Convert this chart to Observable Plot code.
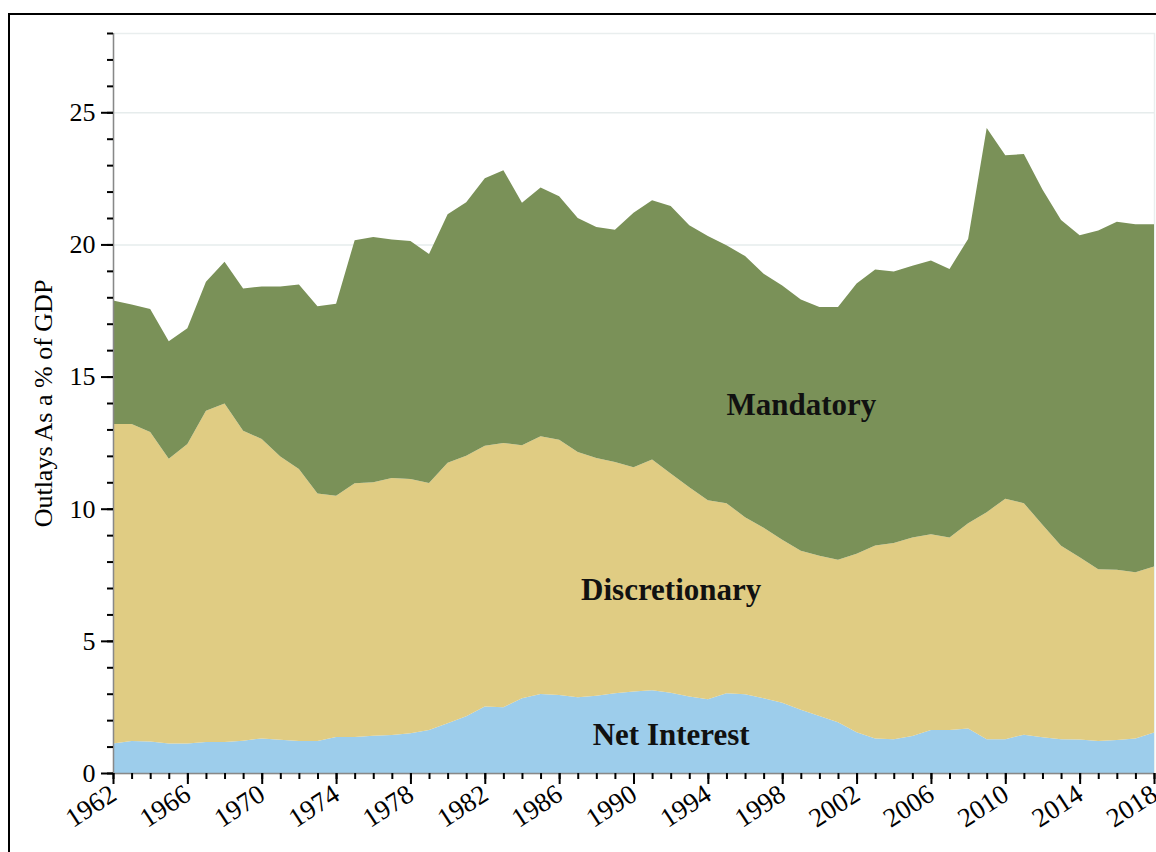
<!DOCTYPE html>
<html>
<head>
<meta charset="utf-8">
<script src="https://cdn.jsdelivr.net/npm/d3@7"></script>
<script src="https://cdn.jsdelivr.net/npm/@observablehq/plot@0.6"></script>
<style>
  html, body { margin: 0; padding: 0; background: #fff; overflow: hidden; }
  #frame { position: absolute; left: 8px; top: 13px; width: 1300px; height: 1000px; border: 2px solid #000; pointer-events: none; }
  #chart { position: absolute; left: 0; top: 0; }
</style>
</head>
<body>
<div id="chart"></div>
<div id="frame"></div>
<script>
const years = d3.range(1962, 2019);
const netInterest = [1.12,1.21,1.19,1.12,1.12,1.17,1.17,1.22,1.31,1.26,1.21,1.21,1.36,1.36,1.41,1.44,1.50,1.63,1.88,2.15,2.52,2.49,2.83,2.99,2.95,2.87,2.92,3.02,3.08,3.13,3.04,2.89,2.79,3.02,2.98,2.83,2.66,2.39,2.16,1.92,1.54,1.31,1.28,1.40,1.63,1.63,1.68,1.28,1.28,1.45,1.35,1.28,1.27,1.21,1.25,1.31,1.53];
const discretionary = [12.09,12.00,11.71,10.77,11.33,12.54,12.81,11.73,11.33,10.72,10.29,9.37,9.13,9.60,9.59,9.72,9.62,9.34,9.86,9.85,9.86,10.00,9.57,9.75,9.66,9.28,9.00,8.75,8.49,8.73,8.29,7.92,7.53,7.19,6.70,6.45,6.17,6.02,6.06,6.15,6.76,7.30,7.42,7.51,7.40,7.28,7.77,8.59,9.10,8.76,8.04,7.32,6.89,6.50,6.44,6.29,6.28];
const mandatory = [4.67,4.52,4.66,4.45,4.38,4.88,5.36,5.38,5.77,6.43,6.98,7.08,7.27,9.20,9.28,9.03,9.01,8.67,9.40,9.60,10.12,10.32,9.18,9.41,9.21,8.85,8.74,8.79,9.63,9.81,10.12,9.92,10.00,9.76,9.88,9.61,9.62,9.51,9.41,9.56,10.22,10.44,10.28,10.28,10.36,10.16,10.76,14.54,12.99,13.21,12.69,12.32,12.19,12.82,13.17,13.16,12.95];

const categories = ["Net Interest", "Discretionary", "Mandatory"];
const colors = ["#9dcdeb", "#e0cc83", "#7a9158"];
const seriesValues = [netInterest, discretionary, mandatory];

const labelNames = ["Mandatory", "Discretionary", "Net Interest"];
const labelYears = [1999, 1992, 1992];
const labelValues = [13.94, 6.93, 1.44];

const xMajorTicks = d3.range(1962, 2019, 4);
const xMinorTicks = d3.range(1962, 2019, 1);
const yMajorTicks = [0, 5, 10, 15, 20, 25];
const yMinorTicks = d3.range(0, 29, 1);

const rows = [];
categories.forEach((c, ci) => {
  years.forEach((yr, i) => rows.push({year: yr, category: c, value: seriesValues[ci][i]}));
});
const labels = labelNames.map((n, i) => ({name: n, year: labelYears[i], value: labelValues[i]}));

const chart = Plot.plot({
  width: 1156,
  height: 852,
  marginLeft: 113,
  marginRight: 2,
  marginTop: 33,
  marginBottom: 79,
  style: {fontFamily: "'Liberation Serif', serif", fontSize: "25px", background: "transparent", color: "#000"},
  x: {domain: [1962, 2018]},
  y: {domain: [0, 28]},
  color: {domain: categories, range: colors},
  marks: [
    Plot.frame({stroke: "#e9eeee", strokeWidth: 1.5}),
    Plot.gridY(yMajorTicks, {stroke: "#e6ecec", strokeOpacity: 1, strokeWidth: 1.5}),
    Plot.areaY(rows, Plot.stackY({x: "year", y: "value", fill: "category", order: categories})),
    Plot.ruleX([1962], {y1: 0, y2: 28, stroke: "#888", strokeWidth: 1.5}),
    Plot.ruleY([0], {stroke: "#888", strokeWidth: 1.5}),
    Plot.axisX(xMinorTicks, {tickSize: 6, tickFormat: () => "", strokeWidth: 2, label: null}),
    Plot.axisX(xMajorTicks, {tickSize: 11, tickFormat: d => String(d), tickRotate: -33, tickPadding: 7, strokeWidth: 2, fontSize: 27, label: null}),
    Plot.axisY(yMinorTicks, {tickSize: 6, tickFormat: () => "", strokeWidth: 2, label: null}),
    Plot.axisY(yMajorTicks, {tickSize: 12, tickPadding: 6, strokeWidth: 2, fontSize: 26, label: "Outlays As a % of GDP", labelAnchor: "center", labelArrow: "none", labelOffset: 80}),
    Plot.text(labels, {x: "year", y: "value", text: "name", fontSize: 31, fontWeight: "bold", fill: "#111"})
  ]
});
document.getElementById("chart").appendChild(chart);
</script>
</body>
</html>
